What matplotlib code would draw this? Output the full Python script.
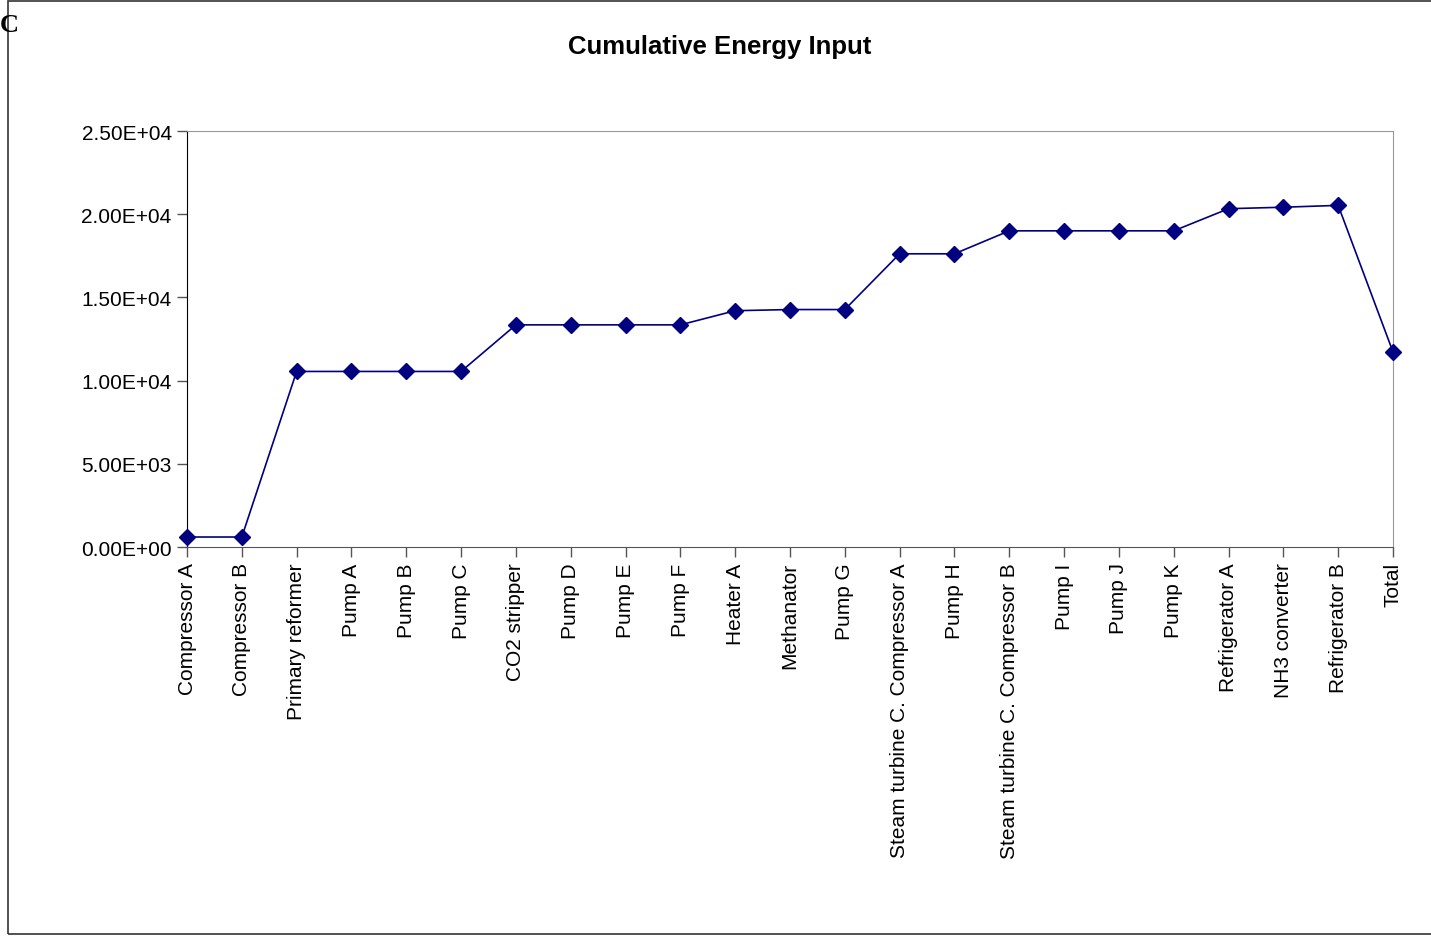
import matplotlib.pyplot as plt
from matplotlib.patches import Rectangle

plt.rcParams["font.family"] = ["Liberation Sans", "DejaVu Sans"]

# data
units = [
    "Compressor A", "Compressor B", "Primary reformer", "Pump A", "Pump B",
    "Pump C", "CO2 stripper", "Pump D", "Pump E", "Pump F", "Heater A",
    "Methanator", "Pump G", "Steam turbine C. Compressor A", "Pump H",
    "Steam turbine C. Compressor B", "Pump I", "Pump J", "Pump K",
    "Refrigerator A", "NH3 converter", "Refrigerator B", "Total",
]
energy = [
    600, 600, 10550, 10550, 10550, 10550, 13350, 13350, 13350, 13350,
    14200, 14270, 14270, 17620, 17620, 19000, 19000, 19000, 19000,
    20330, 20420, 20530, 11720,
]
yticks = [0, 5000, 10000, 15000, 20000, 25000]

fig = plt.figure(figsize=(14.31, 9.37), dpi=100)
ax = fig.add_axes([187 / 1431, 1 - 548 / 937, 1206 / 1431, 416 / 937])

x = list(range(len(units)))
ax.plot(x, energy, color="#000080", lw=1.2, marker="D", ms=8.5,
        markeredgecolor="#000080", clip_on=False, zorder=3)

ax.set_xlim(0, len(units) - 1)
ax.set_ylim(0, 25000)
ax.set_xticks(x)
ax.set_xticklabels(units, rotation=90, fontsize=15)
ax.set_yticks(yticks)
ax.set_yticklabels([f"{v:.2E}" for v in yticks], fontsize=15)
ax.tick_params(direction="out", length=7, width=1, color="#555555", pad=4)

for side in ["top", "right"]:
    ax.spines[side].set_color("#999999")
ax.spines["left"].set_color("black")
ax.spines["bottom"].set_color("#555555")

fig.text(720 / 1431, 1 - 47 / 937, "Cumulative Energy Input",
         ha="center", va="center", fontsize=18.5, fontweight="bold")

# outer chart frame
fig.patches.append(Rectangle((8 / 1431, 2 / 937), 1.0, 933 / 937,
                             transform=fig.transFigure, fill=False,
                             edgecolor="#333333", lw=1.2))
fig.text(0.0, 1 - 26 / 937, "C", ha="left", va="center",
         fontsize=19, fontweight="bold", family="Liberation Serif")

fig.savefig("out.png", dpi=100)
